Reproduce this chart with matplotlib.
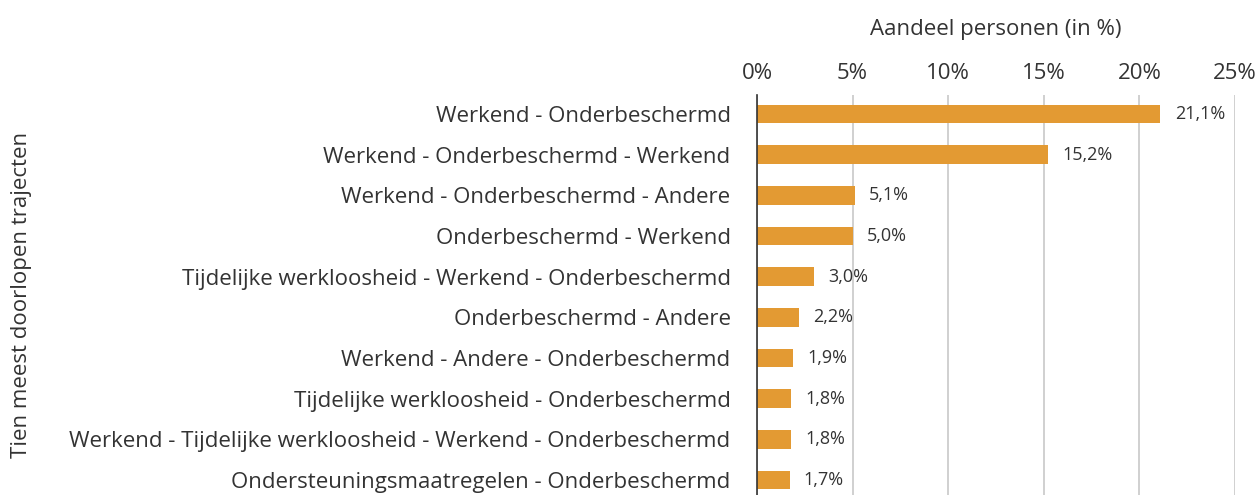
import matplotlib
matplotlib.use("Agg")
import matplotlib.pyplot as plt
from matplotlib.ticker import FuncFormatter

categories = [
    "Werkend - Onderbeschermd",
    "Werkend - Onderbeschermd - Werkend",
    "Werkend - Onderbeschermd - Andere",
    "Onderbeschermd - Werkend",
    "Tijdelijke werkloosheid - Werkend - Onderbeschermd",
    "Onderbeschermd - Andere",
    "Werkend - Andere - Onderbeschermd",
    "Tijdelijke werkloosheid - Onderbeschermd",
    "Werkend - Tijdelijke werkloosheid - Werkend - Onderbeschermd",
    "Ondersteuningsmaatregelen - Onderbeschermd",
]
values = [21.1, 15.2, 5.1, 5.0, 3.0, 2.2, 1.9, 1.8, 1.8, 1.7]
xticks = [0, 5, 10, 15, 20, 25]

plt.rcParams['font.family'] = ['Open Sans', 'DejaVu Sans']
txt = '#333333'

fig = plt.figure(figsize=(12.59, 4.95), dpi=100)
ax = fig.add_axes([757/1259, 0, 478/1259, 400/495])

pos = list(range(len(categories)))
ax.barh(pos, values, height=0.46, color='#E39A33', zorder=3)
for p, v in zip(pos, values):
    ax.text(v + 0.75, p, f"{v:.1f}%".replace('.', ','), va='center', ha='left',
            fontsize=13, color=txt)

ax.set_xlim(0, 25)
ax.set_ylim(9.37, -0.47)
ax.set_yticks(pos)
ax.set_yticklabels(categories, fontsize=16, color=txt)
ax.set_xticks(xticks)
ax.xaxis.set_major_formatter(FuncFormatter(lambda x, _: f"{int(x)}%"))
ax.xaxis.tick_top()
ax.xaxis.set_label_position('top')
ax.tick_params(axis='x', length=0, labelsize=16, labelcolor=txt, pad=8)
ax.tick_params(axis='y', length=0, pad=19)
ax.set_xlabel("Aandeel personen (in %)", fontsize=16, color=txt, labelpad=20)
ax.grid(axis='x', color='#C8C8C8', linewidth=1.2, zorder=0)
for s in ['top', 'right', 'bottom']:
    ax.spines[s].set_visible(False)
ax.spines['left'].set_color('#333333')
ax.spines['left'].set_linewidth(1.2)
ax.spines['left'].set_zorder(4)

fig.text(22/1259, 1 - 295/495, "Tien meest doorlopen trajecten", rotation=90,
         va='center', ha='center', fontsize=16, color=txt)

fig.savefig("out.png", dpi=100)
